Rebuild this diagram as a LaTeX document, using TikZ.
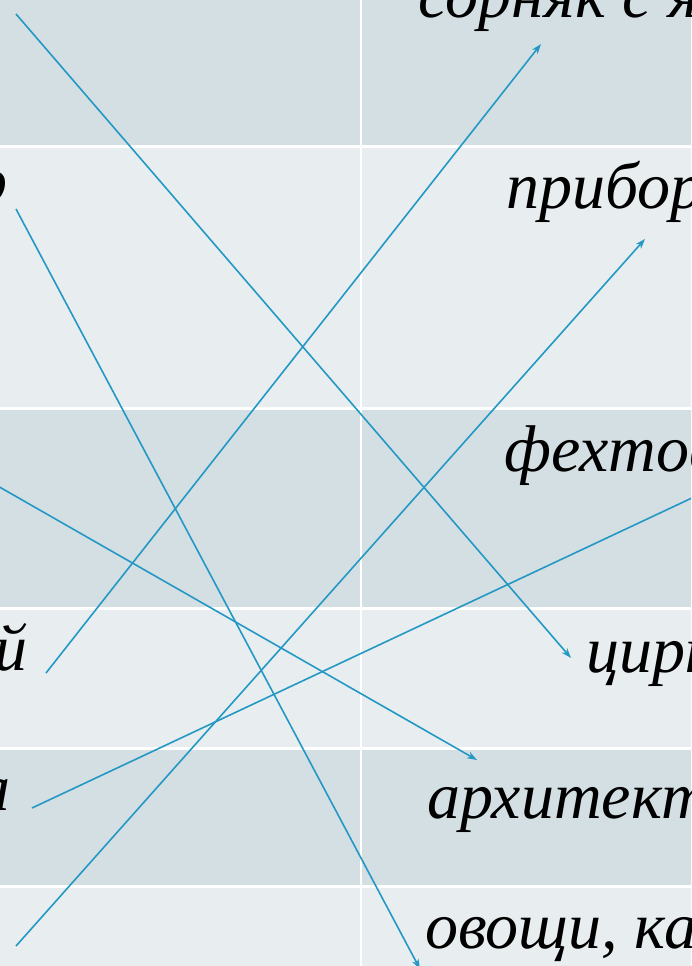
\documentclass[tikz,border=0pt]{standalone}
\usepackage{fontspec}
\setmainfont{Liberation Serif}
\usetikzlibrary{arrows.meta}
\definecolor{rowdark}{RGB}{211,223,227}
\definecolor{rowlight}{RGB}{232,238,240}
\definecolor{linkblue}{RGB}{36,152,196}

\begin{document}
\begin{tikzpicture}[
  x=1pt, y=-1pt,
  wordR/.style={anchor=base west, inner sep=0pt,
                font=\itshape\fontsize{66}{78}\selectfont},
  wordL/.style={anchor=base east, inner sep=0pt,
                font=\itshape\fontsize{66}{78}\selectfont},
  link/.style={-{Stealth[length=10pt, width=7pt, inset=3pt]},
               linkblue, line width=1.6pt},
  sepline/.style={white, line width=3pt}
]
\useasboundingbox (0,0) rectangle (691,966);
\clip (0,0) rectangle (691,966);

% table rows
\foreach \ytop/\ybot/\col in {-20/146/rowdark, 146/408/rowlight,
    408/608/rowdark, 608/748/rowlight, 748/886/rowdark, 886/990/rowlight}
  \fill[\col] (-10,\ytop) rectangle (700,\ybot);
\foreach \y in {146,408,608,748,886}
  \draw[sepline] (-10,\y) -- (700,\y);
\draw[sepline, line width=2.5pt] (361,-10) -- (361,990);

% right column
\node[wordR] (sorn)  at (418,18)  {сорняк с я};
\node[wordR] (prib)  at (506,208) {прибор};
\node[wordR] (feht)  at (504,471) {фехтов};
\node[wordR] (tsirk) at (586,672) {цирк};
\node[wordR] (arhit) at (427,818) {архитект};
\node[wordR] (ovosh) at (425,948) {овощи, ка};

% left column (cut off)
\node[wordL] (lr) at (8,203)  {р};
\node[wordL] (lj) at (28,670) {й};
\node[wordL] (la) at (11,810) {а};

% arrow ends
\coordinate (a1s) at (16,14);    \coordinate (a1e) at (571,658);
\coordinate (a2s) at (46,673);   \coordinate (a2e) at (541,44);
\coordinate (a3s) at (16,209);   \coordinate (a3e) at (420,969);
\coordinate (a4s) at (-60,453);  \coordinate (a4e) at (477,760);
\coordinate (a5s) at (32,808);   \coordinate (a5e) at (760,466);
\coordinate (a6s) at (16,946);   \coordinate (a6e) at (645,239);

% links
\draw[link] (a1s) -- (a1e);
\draw[link] (a2s) -- (a2e);
\draw[link] (a3s) -- (a3e);
\draw[link] (a4s) -- (a4e);
\draw[link] (a5s) -- (a5e);
\draw[link] (a6s) -- (a6e);

\end{tikzpicture}
\end{document}
